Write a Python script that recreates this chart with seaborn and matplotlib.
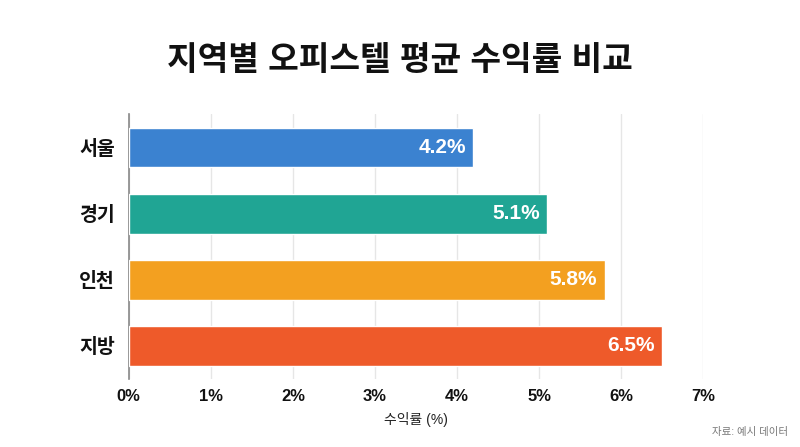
import matplotlib
matplotlib.use("Agg")
import matplotlib.pyplot as plt
import seaborn as sns
import pandas as pd
from matplotlib.ticker import FuncFormatter

# Data
regions = ["서울", "경기", "인천", "지방"]
yields = [4.2, 5.1, 5.8, 6.5]
colors = ["#3b82d0", "#20a594", "#f3a020", "#ee5a2a"]

sns.set_theme(style="white")
plt.rcParams['font.family'] = ['Liberation Sans', 'Noto Sans CJK KR']

df = pd.DataFrame({"region": regions, "yield": yields})

fig = plt.figure(figsize=(8, 4.47), dpi=100)
ax = fig.add_axes([0.161, 0.152, 0.718, 0.592])

sns.barplot(data=df, x="yield", y="region", hue="region", palette=colors,
            legend=False, width=0.6, saturation=1, ax=ax, zorder=3)

ax.set_xlim(0, 7)
ax.set_xticks(range(8))
ax.xaxis.set_major_formatter(FuncFormatter(lambda v, p: f"{v:.0f}%"))
ax.grid(axis="x", color="#e6e6e6", linewidth=1, zorder=0)
ax.set_axisbelow(True)
for s in ["top", "right", "bottom"]:
    ax.spines[s].set_visible(False)
ax.spines["left"].set_color("#888888")
ax.spines["left"].set_linewidth(1.2)

ax.tick_params(axis="y", length=0, pad=10, labelsize=14)
ax.tick_params(axis="x", length=0, pad=7, labelsize=12)
for lbl in ax.get_yticklabels() + ax.get_xticklabels():
    lbl.set_fontweight("bold")
    lbl.set_color("#111111")

ax.set_ylabel("")
ax.set_xlabel("수익률 (%)", fontsize=10, color="#222222", labelpad=6)

# value labels inside bar ends
for i, v in enumerate(yields):
    ax.text(v - 0.09, i, f"{v:.1f}%", ha="right", va="center",
            color="white", fontsize=15, fontweight="bold")

fig.text(0.5, 0.862, "지역별 오피스텔 평균 수익률 비교", ha="center", va="center",
         fontsize=24, fontweight="bold", color="#111111")
fig.text(0.985, 0.022, "자료: 예시 데이터", ha="right", va="bottom",
         fontsize=7.5, color="#777777")

fig.savefig("out.png", dpi=100, facecolor="white")
